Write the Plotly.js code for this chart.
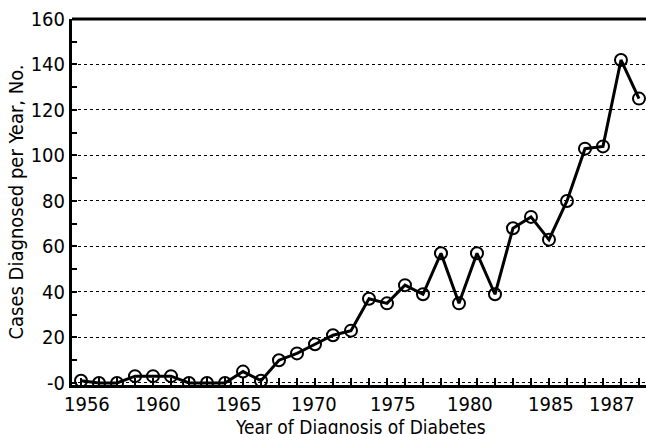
<!DOCTYPE html>
<html>
<head>
<meta charset="utf-8">
<script src="https://cdn.plot.ly/plotly-3.0.1.min.js"></script>
<style>html,body{margin:0;padding:0;background:#fff;}#chart{width:646px;height:434px;}</style>
</head>
<body>
<div id="chart"></div>
<script>
// Data
const years = [1956,1957,1958,1959,1960,1961,1962,1963,1964,1965,1966,1967,1968,1969,1970,1971,
               1972,1973,1974,1975,1976,1977,1978,1979,1980,1981,1982,1983,1984,1985,1986,1987];
const cases = [1,0,0,3,3,3,0,0,0,5,1,10,13,17,21,23,
               37,35,43,39,57,35,57,39,68,73,63,80,103,104,142,125];
const xTickLabels = ['1956','1960','1965','1970','1975','1980','1985','1987'];

// Layout: the original print places the year labels unevenly along the axis
const xLabelSlots = [1956.33,1960.28,1964.78,1968.94,1973.33,1977.61,1982.11,1985.5];

const FONT = '"Liberation Sans Narrow","DejaVu Sans Condensed","Arial Narrow",sans-serif';
const xr = [1955.5, 1987.39];

const trace = {
  x: years, y: cases, type: 'scatter', mode: 'lines+markers',
  line: {color: '#000', width: 3},
  marker: {symbol: 'circle-open', size: 12, color: '#000', line: {width: 2, color: '#000'}},
  hoverinfo: 'skip'
};

const annotations = xTickLabels.map((t, i) => ({
  text: t, x: xLabelSlots[i], xref: 'x', y: -0.016, yref: 'paper',
  xanchor: 'center', yanchor: 'top', showarrow: false, borderpad: 0,
  font: {family: FONT, size: 20, color: '#000'}
}));
annotations.push({
  text: 'Year of Diagnosis of Diabetes', x: 0.502, xref: 'paper', y: -0.114, yref: 'paper',
  xanchor: 'center', yanchor: 'middle', showarrow: false, borderpad: 0,
  font: {family: FONT, size: 19, color: '#000'}
});

const layout = {
  width: 646, height: 434,
  margin: {l: 72, r: 0, t: 19, b: 49},
  paper_bgcolor: '#fff', plot_bgcolor: '#fff',
  showlegend: false,
  font: {family: FONT, size: 20, color: '#000'},
  xaxis: {
    range: xr, showgrid: false, zeroline: false,
    showline: true, linecolor: '#000', linewidth: 3,
    tick0: 1956, dtick: 1,
    ticks: 'inside', ticklen: 7, tickwidth: 2, tickcolor: '#000',
    showticklabels: false
  },
  yaxis: {
    range: [-0.9, 160], showgrid: true, gridcolor: '#000', griddash: 'dot',
    zeroline: false, showline: true, linecolor: '#000', linewidth: 3,
    tick0: 0, dtick: 20, labelalias: {'0': '-0'},
    ticks: 'inside', ticklen: 5, tickwidth: 2, tickcolor: '#000',
    minor: {dtick: 10, tick0: 0, ticks: 'inside', ticklen: 5, tickwidth: 2, tickcolor: '#000', showgrid: false},
    tickfont: {family: FONT, size: 20, color: '#000'},
    title: {text: 'Cases Diagnosed per Year, No.', font: {family: FONT, size: 20, color: '#000'}, standoff: 2}
  },
  shapes: [{type: 'line', xref: 'paper', yref: 'paper', x0: 0, x1: 1, y0: 1, y1: 1,
            line: {color: '#000', width: 3}}],
  annotations: annotations
};

Plotly.newPlot('chart', [trace], layout, {staticPlot: true, displayModeBar: false});
</script>
</body>
</html>
